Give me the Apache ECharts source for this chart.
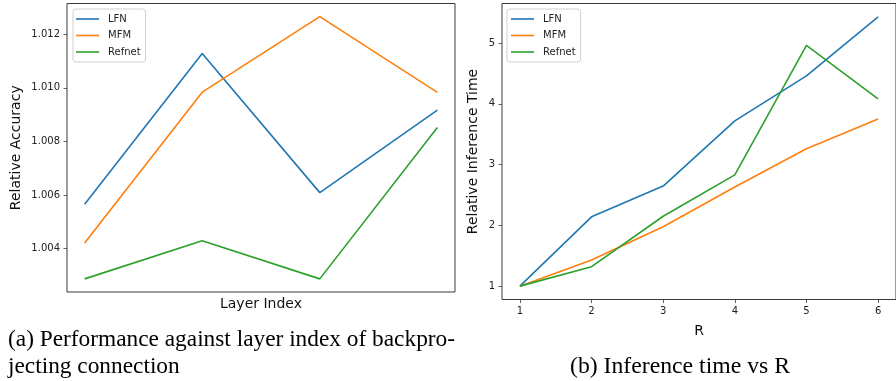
<!DOCTYPE html>
<html>
<head>
<meta charset="utf-8">
<script src="https://cdn.jsdelivr.net/npm/echarts@6/dist/echarts.min.js"></script>
<style>html,body{margin:0;padding:0;background:#fff;}#c{width:896px;height:381px;}</style>
</head>
<body>
<div id="c"></div>
<script>
// ---- data ----
const layerIdx = [0, 1, 2, 3];
const accLFN = [1.00566, 1.01128, 1.00609, 1.00917];
const accMFM = [1.00421, 1.00984, 1.01266, 1.00983];
const accRefnet = [1.00287, 1.00429, 1.00287, 1.00852];
const accTicks = [1.004, 1.006, 1.008, 1.010, 1.012];

const rVals = [1, 2, 3, 4, 5, 6];
const timeLFN = [1.0, 2.14, 2.646, 3.72, 4.46, 5.43];
const timeMFM = [1.0, 1.43, 1.976, 2.63, 3.26, 3.75];
const timeRefnet = [1.0, 1.32, 2.15, 2.83, 4.96, 4.08];
const timeTicks = [1, 2, 3, 4, 5];
const rTicks = [1, 2, 3, 4, 5, 6];

const seriesNames = ['LFN', 'MFM', 'Refnet'];
const colors = ['#1f77b4', '#ff7f0e', '#2ca02c'];

const captionA1 = '(a) Performance against layer index of backpro-';
const captionA2 = 'jecting connection';
const captionB = '(b) Inference time vs R';

// ---- helpers ----
const pair = (xs, ys) => xs.map((x, i) => [x, ys[i]]);
const ff = '"DejaVu Sans", sans-serif';
const serif = '"Liberation Serif", "Times New Roman", serif';
const ctx = document.createElement('canvas').getContext('2d');
function fitScale(text, size, target) {
  ctx.font = size + 'px ' + serif;
  return target / ctx.measureText(text).width;
}
const capSize = 24;
const sA = fitScale(captionA1, capSize, 447);
const sB = fitScale(captionB, capSize, 220);

const frame = '#3a3a3a';
function yAxisCommon(min, max, ticks, fmt, name, gap, grid) {
  return {
    type: 'value', gridIndex: grid, min: min, max: max,
    name: name, nameLocation: 'middle', nameGap: gap,
    nameTextStyle: { fontFamily: ff, fontSize: 14, color: '#111' },
    splitLine: { show: false },
    axisLine: { show: false, onZero: false },
    axisTick: { show: true, inside: false, length: 3.5, lineStyle: { color: frame, width: 0.8 }, customValues: ticks },
    axisLabel: { show: true, margin: 7, fontFamily: ff, fontSize: 10, color: '#222', customValues: ticks, formatter: fmt }
  };
}

const chart = echarts.init(document.getElementById('c'), null, { renderer: 'canvas' });

const legendCommon = {
  orient: 'vertical',
  icon: 'rect',
  itemWidth: 23,
  itemHeight: 1.6,
  itemGap: 4.5,
  backgroundColor: 'rgba(255,255,255,0.8)',
  borderColor: '#d0d0d0',
  borderWidth: 1,
  borderRadius: 3,
  textStyle: { fontFamily: ff, fontSize: 10, color: '#222', lineHeight: 12, padding: [0, 0, 0, 4] },
  data: seriesNames
};

const series = [];
[accLFN, accMFM, accRefnet].forEach((d, i) => series.push({
  type: 'line', name: seriesNames[i], xAxisIndex: 0, yAxisIndex: 0,
  data: pair(layerIdx, d), symbol: 'none', lineStyle: { width: 1.6, color: colors[i] },
  itemStyle: { color: colors[i] }, animation: false
}));
[timeLFN, timeMFM, timeRefnet].forEach((d, i) => series.push({
  type: 'line', name: seriesNames[i], xAxisIndex: 1, yAxisIndex: 1,
  data: pair(rVals, d), symbol: 'none', lineStyle: { width: 1.6, color: colors[i] },
  itemStyle: { color: colors[i] }, animation: false
}));

chart.setOption({
  animation: false,
  backgroundColor: '#fff',
  grid: [
    { left: 67, top: 3.5, width: 388, height: 288.5, show: true, borderColor: frame, borderWidth: 1, backgroundColor: 'transparent' },
    { left: 502, top: 3.5, width: 397, height: 296, show: true, borderColor: frame, borderWidth: 1, backgroundColor: 'transparent' }
  ],
  xAxis: [
    {
      type: 'value', gridIndex: 0, min: -0.15, max: 3.15,
      name: 'Layer Index', nameLocation: 'middle', nameGap: 5,
      nameTextStyle: { fontFamily: ff, fontSize: 14, color: '#111' },
      splitLine: { show: false }, axisLine: { show: false, onZero: false },
      axisTick: { show: false }, axisLabel: { show: false }
    },
    {
      type: 'value', gridIndex: 1, min: 0.75, max: 6.25,
      name: 'R', nameLocation: 'middle', nameGap: 25,
      nameTextStyle: { fontFamily: ff, fontSize: 14, color: '#111' },
      splitLine: { show: false }, axisLine: { show: false, onZero: false },
      axisTick: { show: true, length: 3.5, lineStyle: { color: frame, width: 0.8 }, customValues: rTicks },
      axisLabel: { show: true, margin: 7, fontFamily: ff, fontSize: 10, color: '#222', customValues: rTicks, formatter: v => String(v) }
    }
  ],
  yAxis: [
    yAxisCommon(1.00238, 1.01315, accTicks, v => v.toFixed(3), 'Relative Accuracy', 44, 0),
    yAxisCommon(0.78, 5.65, timeTicks, v => String(v), 'Relative Inference Time', 22, 1)
  ],
  legend: [
    Object.assign({}, legendCommon, { left: 73, top: 9, padding: [4, 5, 4, 3] }),
    Object.assign({}, legendCommon, { left: 507, top: 9, padding: [4, 5, 4, 4] })
  ],
  graphic: [
    { type: 'text', x: 8, y: 340, scaleX: sA, style: { text: captionA1, font: capSize + 'px ' + serif, fill: '#000', verticalAlign: 'middle' } },
    { type: 'text', x: 8, y: 367, scaleX: sA, style: { text: captionA2, font: capSize + 'px ' + serif, fill: '#000', verticalAlign: 'middle' } },
    { type: 'text', x: 570, y: 367, scaleX: sB, style: { text: captionB, font: capSize + 'px ' + serif, fill: '#000', verticalAlign: 'middle' } }
  ],
  series: series
});
</script>
</body>
</html>
